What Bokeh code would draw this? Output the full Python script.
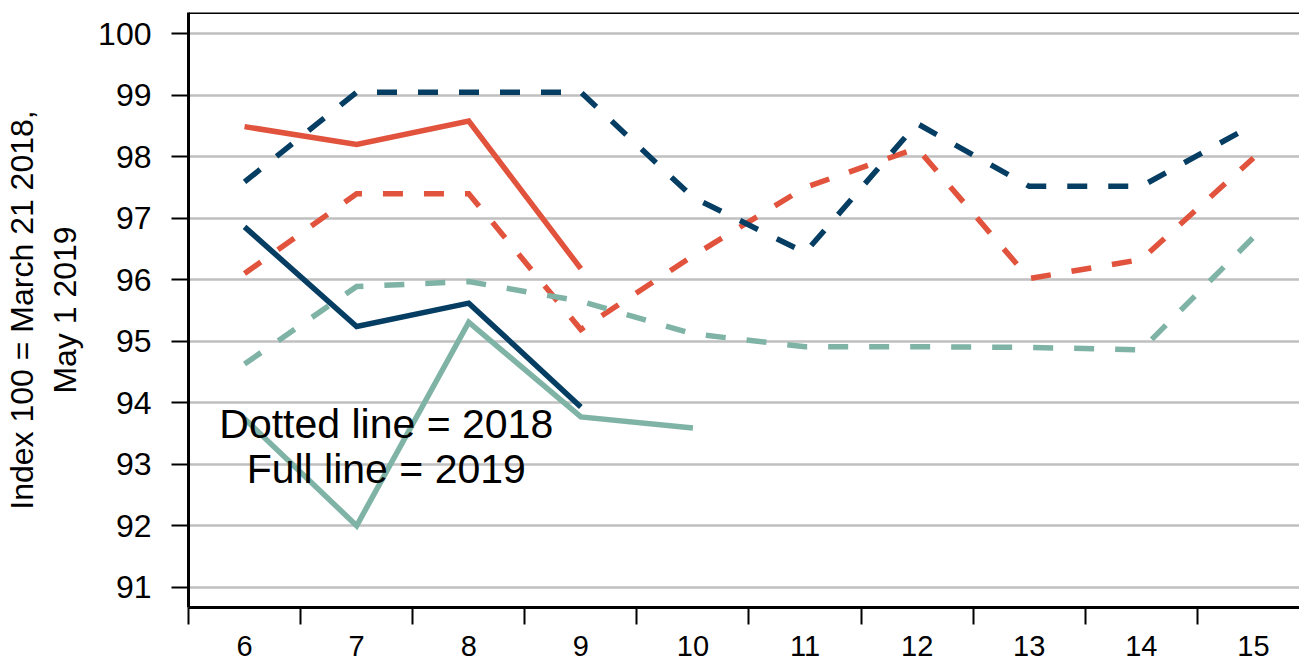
from bokeh.plotting import figure
from bokeh.models import FixedTicker, Range1d, Span, Label
from bokeh.embed import file_html
from bokeh.resources import INLINE

# ---- data ----
days = [6, 7, 8, 9, 10, 11, 12, 13, 14, 15]
navy_2018 = [97.59, 99.05, 99.05, 99.05, 97.34, 96.44, 98.54, 97.52, 97.52, 98.52]
red_2018 = [96.10, 97.40, 97.40, 95.19, 96.39, 97.50, 98.14, 96.02, 96.33, 97.98]
teal_2018 = [94.63, 95.89, 95.97, 95.65, 95.12, 94.91, 94.91, 94.90, 94.86, 96.69]

days_2019 = [6, 7, 8, 9]
navy_2019 = [96.86, 95.24, 95.62, 93.93]
red_2019 = [98.49, 98.20, 98.58, 96.18]
days_2019_teal = [6, 7, 8, 9, 10]
teal_2019 = [93.74, 92.00, 95.31, 93.77, 93.59]

y_ticks = [91, 92, 93, 94, 95, 96, 97, 98, 99, 100]
y_label = "Index 100 = March 21 2018,\nMay 1 2019"
note_2018 = "Dotted line = 2018"
note_2019 = "Full line = 2019"

NAVY = "#053D63"
RED = "#E1533D"
TEAL = "#7FB3A5"
FONT = "Liberation Sans"

p = figure(width=1299, height=665, output_backend="svg", toolbar_location=None,
           x_range=Range1d(5.5, 15.411), y_range=Range1d(90.67, 100.346),
           min_border_left=181, min_border_right=0, min_border_top=12, min_border_bottom=58)
p.outline_line_color = None
p.background_fill_color = "white"
p.border_fill_color = "white"

# grid
p.xgrid.visible = False
p.ygrid.ticker = FixedTicker(ticks=y_ticks)
p.ygrid.grid_line_color = "#C0C0C0"
p.ygrid.grid_line_width = 2.5

# y axis
ya = p.yaxis[0]
ya.ticker = FixedTicker(ticks=y_ticks)
ya.axis_line_color = "black"
ya.axis_line_width = 3
ya.major_tick_line_color = "black"
ya.major_tick_line_width = 2
ya.major_tick_out = 17
ya.major_tick_in = 0
ya.minor_tick_line_color = None
ya.major_label_text_font = FONT
ya.major_label_text_font_size = "32px"
ya.major_label_text_color = "black"
ya.major_label_standoff = 20
ya.axis_label = y_label
ya.axis_label_text_font = FONT
ya.axis_label_text_font_size = "32px"
ya.axis_label_text_font_style = "normal"
ya.axis_label_text_color = "black"
ya.axis_label_standoff = 12

# x axis: labels at day centres, ticks at boundaries between days
xa = p.xaxis[0]
xa.ticker = FixedTicker(ticks=days, minor_ticks=[d - 0.5 for d in days] + [days[-1] + 0.5])
xa.axis_line_color = "black"
xa.axis_line_width = 3
xa.major_tick_line_color = None
xa.major_tick_out = 17
xa.major_tick_in = 0
xa.minor_tick_line_color = "black"
xa.minor_tick_line_width = 2
xa.minor_tick_out = 17
xa.minor_tick_in = 0
xa.major_label_text_font = FONT
xa.major_label_text_font_size = "29px"
xa.major_label_text_color = "black"
xa.major_label_standoff = 11

# top border
p.add_layout(Span(location=100.346, dimension="width", line_color="black", line_width=3))

LW = 5.5
DASH = "20 21"
p.line(days, red_2018, line_color=RED, line_width=LW, line_dash=DASH, line_join="miter")
p.line(days, teal_2018, line_color=TEAL, line_width=LW, line_dash=DASH, line_join="miter")
p.line(days, navy_2018, line_color=NAVY, line_width=LW, line_dash=DASH, line_join="miter")
p.line(days_2019_teal, teal_2019, line_color=TEAL, line_width=LW, line_join="miter")
p.line(days_2019, navy_2019, line_color=NAVY, line_width=LW, line_join="miter")
p.line(days_2019, red_2019, line_color=RED, line_width=LW, line_join="miter")

p.add_layout(Label(x=7.264, y=93.647, text=note_2018, text_align="center",
                   text_baseline="alphabetic", text_font=FONT, text_font_size="41px",
                   text_color="black"))
p.add_layout(Label(x=7.264, y=92.93, text=note_2019, text_align="center",
                   text_baseline="alphabetic", text_font=FONT, text_font_size="41px",
                   text_color="black"))

open("out.html", "w").write(file_html(p, INLINE))
